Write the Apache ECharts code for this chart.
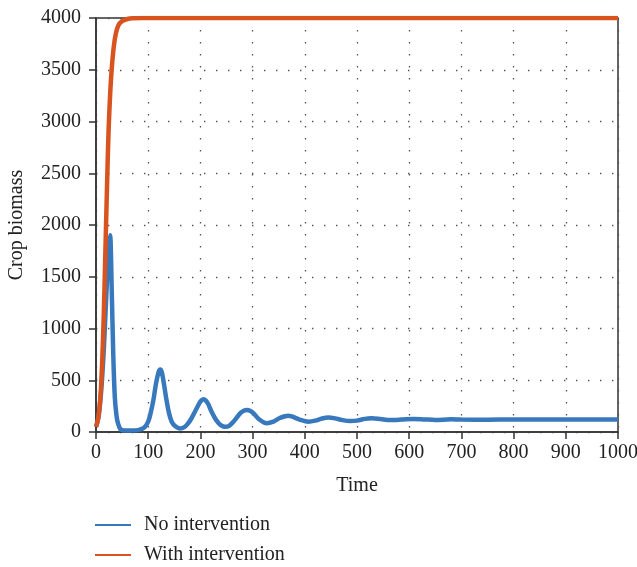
<!DOCTYPE html>
<html>
<head>
<meta charset="utf-8">
<script src="https://cdn.jsdelivr.net/npm/echarts@6/dist/echarts.min.js"></script>
<style>html,body{margin:0;padding:0;background:#fff}#c{width:637px;height:567px}</style>
</head>
<body>
<div id="c"></div>
<script>
const seriesNames = ['No intervention', 'With intervention'];
const xTicks = [0,100,200,300,400,500,600,700,800,900,1000];
const yTicks = [0,500,1000,1500,2000,2500,3000,3500,4000];
const noIntervention = [
  [0,50],[5,150],[10,400],[15,800],[20,1350],[24,1750],[27,1900],[30,1400],[33,760],[36,340],[39,170],[42,85],[47,25],[55,15],[65,15],[80,18],[92,40],[100,100],[105,190],[110,310],[115,470],[120,580],[123,605],[126,580],[130,470],[135,310],[140,180],[145,100],[152,55],[161,35],[170,50],[176,80],[183,133],[190,200],[197,270],[202,305],[206,316],[210,305],[215,270],[221,200],[228,133],[235,85],[241,60],[247,51],[255,60],[265,110],[276,180],[283,205],[289,212],[295,205],[302,180],[313,120],[327,84],[340,100],[352,135],[362,152],[368,158],[375,150],[390,120],[407,100],[420,110],[433,130],[445,140],[458,132],[472,115],[487,106],[500,110],[515,127],[528,132],[545,125],[563,116],[585,120],[608,126],[630,121],[650,117],[680,122],[700,120],[750,119],[800,121],[850,120],[900,120],[950,120],[1000,120]
];
const withIntervention = [
  [0,50],[3,100],[6,200],[9,380],[12,700],[15,1150],[18,1750],[21,2350],[24,2900],[27,3250],[30,3500],[34,3720],[38,3850],[43,3930],[50,3970],[60,3990],[70,3998],[90,4000],[150,4000],[300,4000],[500,4000],[700,4000],[900,4000],[1000,4000]
];

const font = 'Liberation Serif';
const chart = echarts.init(document.getElementById('c'), null, {renderer:'canvas'});
const dotted = {type:[1.4,10.6], color:'#555', width:1.3};
chart.setOption({
  animation:false,
  backgroundColor:'#fff',
  grid:{left:96,right:19,top:18,bottom:135,outerBoundsMode:'none',containLabel:false,show:true,borderColor:'#333',borderWidth:1.5,backgroundColor:'transparent'},
  xAxis:{
    type:'value', min:xTicks[0], max:xTicks[xTicks.length-1], interval:100,
    name:'Time', nameLocation:'middle', nameGap:44,
    nameTextStyle:{fontFamily:font,fontSize:20,color:'#222'},
    axisLine:{show:true,lineStyle:{color:'#333',width:1.5}},
    axisTick:{show:true,length:7,lineStyle:{color:'#333',width:1.5}},
    axisLabel:{fontFamily:font,fontSize:20,color:'#222',margin:11,showMaxLabel:true,showMinLabel:true,hideOverlap:false,formatter:v=>String(v)},
    splitLine:{show:true,lineStyle:dotted}
  },
  yAxis:{
    type:'value', min:yTicks[0], max:yTicks[yTicks.length-1], interval:500,
    name:'Crop biomass', nameLocation:'middle', nameGap:69,
    nameTextStyle:{fontFamily:font,fontSize:20,color:'#222'},
    axisLine:{show:true,lineStyle:{color:'#333',width:1.5}},
    axisTick:{show:true,length:7,lineStyle:{color:'#333',width:1.5}},
    axisLabel:{fontFamily:font,fontSize:20,color:'#222',margin:15,formatter:v=>String(v)},
    splitLine:{show:true,lineStyle:dotted}
  },
  legend:{
    orient:'vertical', left:95, top:514, padding:0, itemWidth:36, itemHeight:2, itemGap:8,
    icon:'rect',
    data:seriesNames,
    textStyle:{fontFamily:font,fontSize:20,lineHeight:22,color:'#222',padding:[0,0,0,8]}
  },
  series:[
    {name:seriesNames[0], type:'line', data:noIntervention, showSymbol:false, symbol:'none', smooth:0.3,
     lineStyle:{color:'#3878bd',width:4.5}, itemStyle:{color:'#3878bd'}, z:2},
    {name:seriesNames[1], type:'line', data:withIntervention, showSymbol:false, symbol:'none', smooth:0.3,
     lineStyle:{color:'#d9531e',width:4.5}, itemStyle:{color:'#d9531e'}, z:3}
  ]
});
</script>
</body>
</html>
